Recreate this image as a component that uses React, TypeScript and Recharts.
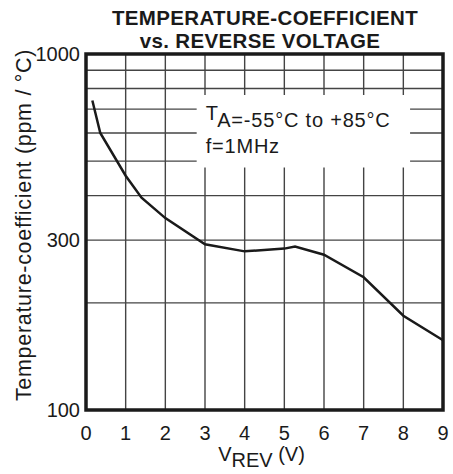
import React from "react";
import {
  LineChart,
  Line,
  XAxis,
  YAxis,
  CartesianGrid,
  ReferenceArea,
} from "recharts";

// Data
const reverseVoltage = [0.16, 0.36, 1.0, 1.4, 2.0, 3.0, 4.0, 5.0, 5.27, 6.0, 7.0, 8.0, 9.0];
const tempCoefficient = [740, 600, 455, 395, 346, 292, 279, 284, 288, 273, 236, 184, 157];

const xTicks = [0, 1, 2, 3, 4, 5, 6, 7, 8, 9];
const yTicks = [100, 200, 300, 400, 500, 600, 700, 800, 900, 1000];
const yLabeled = [100, 300, 1000];

const titleLines = ["TEMPERATURE-COEFFICIENT", "vs. REVERSE VOLTAGE"];
const noteLine1Main = "T";
const noteLine1Sub = "A=-55°C to +85°C";
const noteLine2 = "f=1MHz";
const yTitle = "Temperature-coefficient (ppm / °C)";

const data = reverseVoltage.map((v, i) => ({ v, tc: tempCoefficient[i] }));

const FONT = "'Liberation Sans', Arial, Helvetica, sans-serif";
const INK = "#1a1a1a";

export default function App() {
  return (
    <div
      style={{
        position: "absolute",
        left: 0,
        top: 0,
        width: 453,
        height: 474,
        background: "#fff",
        fontFamily: FONT,
      }}
    >
      <div
        style={{
          position: "absolute",
          left: 0,
          top: 0,
          width: 530,
          textAlign: "center",
          fontWeight: "bold",
          fontSize: 20.5,
          letterSpacing: 0.35,
          lineHeight: "23px",
          color: INK,
          paddingTop: 6,
        }}
      >
        <div>{titleLines[0]}</div>
        <div style={{ marginLeft: -10 }}>{titleLines[1]}</div>
      </div>
      <LineChart
        width={453}
        height={474}
        data={data}
        margin={{ top: 54, right: 10, bottom: 0, left: 0 }}
        style={{ position: "absolute", left: 0, top: 0 }}
      >
        <CartesianGrid stroke="#444" strokeWidth={1.4} ticks={yTicks} />
        <XAxis
          dataKey="v"
          type="number"
          domain={[0, 9]}
          ticks={xTicks}
          interval={0}
          height={64}
          axisLine={false}
          tickLine={false}
          tickSize={0}
          tickMargin={16}
          tick={{ fill: INK, fontSize: 20, fontFamily: FONT }}
          label={{
            content: (props: any) => {
              const vb = props.viewBox || {};
              const cx = (vb.x || 0) + (vb.width || 0) / 2 - 3;
              return (
                <text
                  x={cx}
                  y={461}
                  textAnchor="middle"
                  fill={INK}
                  fontSize={20}
                  fontFamily={FONT}
                >
                  <tspan>V</tspan>
                  <tspan dy={6}>REV</tspan>
                  <tspan dy={-6}> (V)</tspan>
                </text>
              );
            },
          }}
        />
        <YAxis
          type="number"
          scale="log"
          domain={[100, 1000]}
          ticks={yTicks}
          interval={0}
          allowDataOverflow
          width={86}
          axisLine={false}
          tickLine={false}
          tickSize={0}
          tickMargin={6}
          tickFormatter={(t: number) => (yLabeled.includes(t) ? String(t) : "")}
          tick={{ fill: INK, fontSize: 20, fontFamily: FONT }}
          label={{
            content: () => (
              <text
                transform="translate(31,225) rotate(-90)"
                textAnchor="middle"
                fill={INK}
                fontSize={21.5}
                letterSpacing={0.7}
                fontFamily={FONT}
              >
                {yTitle}
              </text>
            ),
          }}
        />
        <ReferenceArea
          x1={2.79}
          x2={8.17}
          y1={480}
          y2={767}
          fill="#fff"
          fillOpacity={1}
          stroke="none"
          ifOverflow="visible"
          label={{
            content: (props: any) => {
              const vb = props.viewBox || {};
              const x0 = (vb.x || 0) + 9;
              const y0 = vb.y || 0;
              return (
                <g>
                  <text
                    x={x0}
                    y={y0 + 32}
                    fill={INK}
                    fontSize={20}
                    letterSpacing={0.8}
                    fontFamily={FONT}
                  >
                    <tspan dy={-7}>{noteLine1Main}</tspan>
                    <tspan dy={7}>{noteLine1Sub}</tspan>
                  </text>
                  <text
                    x={x0}
                    y={y0 + 58}
                    fill={INK}
                    fontSize={20}
                    letterSpacing={0.8}
                    fontFamily={FONT}
                  >
                    {noteLine2}
                  </text>
                </g>
              );
            },
          }}
        />
        <ReferenceArea
          x1={0}
          x2={9}
          y1={100}
          y2={1000}
          fill="none"
          stroke={INK}
          strokeWidth={3.5}
          ifOverflow="visible"
        />
        <Line
          dataKey="tc"
          type="linear"
          stroke={INK}
          strokeWidth={2.5}
          dot={false}
          isAnimationActive={false}
        />
      </LineChart>
    </div>
  );
}
